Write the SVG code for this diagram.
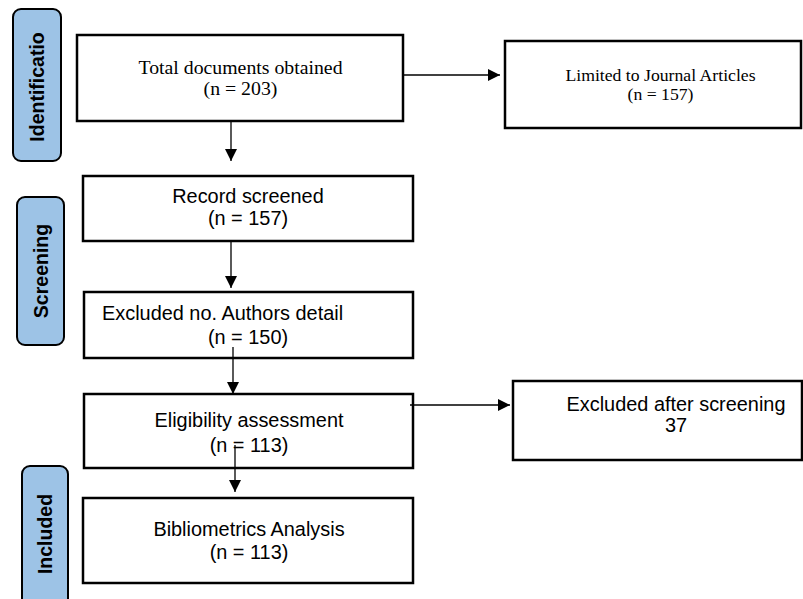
<svg xmlns="http://www.w3.org/2000/svg" width="803" height="599" viewBox="0 0 803 599">
<style>
.box{fill:#fff;stroke:#000;stroke-width:2.5}
.lab{fill:#9DC3E6;stroke:#000;stroke-width:2}
.lt{font-family:"Liberation Sans",Arial,sans-serif;font-weight:bold;font-size:19.5px;fill:#000;text-anchor:middle}
.ss{font-family:"Liberation Sans",Arial,sans-serif;font-size:19.9px;fill:#000}
.sr{font-family:"Liberation Serif","Times New Roman",serif;fill:#000}
.c{text-anchor:middle}
.ln{stroke:#000;stroke-width:1.3;fill:none}
</style>
<defs>
<marker id="ah" viewBox="0 0 10 10" refX="10" refY="5" markerWidth="12" markerHeight="12" markerUnits="userSpaceOnUse" orient="auto">
<path d="M0,0 L10,5 L0,10 Z" fill="#000"/>
</marker>
</defs>
<rect width="803" height="599" fill="#fff"/>
<g id="stage-identification">
<rect class="lab" x="13" y="9" width="48" height="152" rx="8"/>
<text class="lt" transform="translate(37,87) rotate(-90)" x="0" y="7">Identificatio</text>
</g>
<g id="stage-screening">
<rect class="lab" x="17" y="197" width="47" height="148" rx="8"/>
<text class="lt" transform="translate(41,271) rotate(-90)" x="0" y="7">Screening</text>
</g>
<g id="stage-included">
<rect class="lab" x="22" y="466" width="46" height="150" rx="8"/>
<text class="lt" transform="translate(45,534) rotate(-90)" x="0" y="7">Included</text>
</g>
<g id="total">
<rect class="box" x="77" y="35" width="326" height="86"/>
<text class="sr c" font-size="19.8" x="240.5" y="74">Total documents obtained</text>
<text class="sr c" font-size="19.8" x="240.5" y="95">(n = 203)</text>
</g>
<g id="limited">
<rect class="box" x="505" y="41" width="296" height="87"/>
<text class="sr c" font-size="17.7" x="660.5" y="81">Limited to Journal Articles</text>
<text class="sr c" font-size="17.7" x="660.5" y="100">(n = 157)</text>
</g>
<g id="screened">
<rect class="box" x="83" y="176" width="330" height="65"/>
<text class="ss c" x="248" y="203">Record screened</text>
<text class="ss c" x="248" y="225">(n = 157)</text>
</g>
<g id="authors">
<rect class="box" x="84" y="292" width="329" height="66"/>
<text class="ss" x="102" y="320">Excluded no. Authors detail</text>
<text class="ss c" x="248" y="344">(n = 150)</text>
</g>
<g id="eligibility">
<rect class="box" x="84" y="394" width="329" height="74"/>
<text class="ss c" x="249" y="427">Eligibility assessment</text>
<text class="ss c" x="249" y="452">(n = 113)</text>
</g>
<g id="excluded">
<rect class="box" x="513" y="381" width="289" height="79"/>
<text class="ss c" x="676" y="411">Excluded after screening</text>
<text class="ss c" x="676" y="432">37</text>
</g>
<g id="biblio">
<rect class="box" x="83" y="498" width="330" height="85"/>
<text class="ss c" x="249" y="536">Bibliometrics Analysis</text>
<text class="ss c" x="249" y="559">(n = 113)</text>
</g>
<g id="connectors">
<line class="ln" x1="231" y1="121" x2="231" y2="161" marker-end="url(#ah)"/>
<line class="ln" x1="402" y1="75" x2="500" y2="75" marker-end="url(#ah)"/>
<line class="ln" x1="231" y1="241" x2="231" y2="288" marker-end="url(#ah)"/>
<line class="ln" x1="233" y1="347" x2="233" y2="394" marker-end="url(#ah)"/>
<line class="ln" x1="410" y1="405" x2="510" y2="405" marker-end="url(#ah)"/>
<line class="ln" x1="235" y1="445" x2="235" y2="492" marker-end="url(#ah)"/>
</g>
</svg>
